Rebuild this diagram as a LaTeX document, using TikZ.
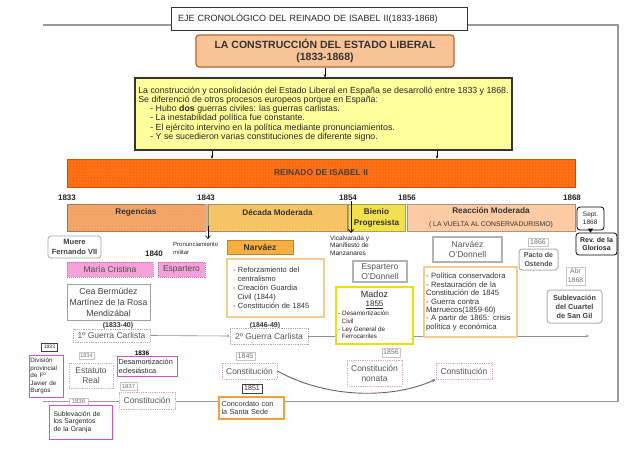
\documentclass[tikz,border=0pt]{standalone}
\usepackage{fontspec}
\setmainfont{Liberation Sans}
\usetikzlibrary{arrows.meta,patterns}
\newcommand{\fsz}[2]{\fontsize{#1pt}{#2pt}\selectfont}
\definecolor{frameC}{HTML}{9A9A9A}
\definecolor{laFill}{HTML}{F8C396}
\definecolor{laDraw}{HTML}{B8662E}
\definecolor{yelFill}{HTML}{FFFF9C}
\definecolor{barFill}{HTML}{FF6A0C}
\definecolor{barDraw}{HTML}{C05010}
\definecolor{regFill}{HTML}{F2A262}
\definecolor{decFill}{HTML}{F6C262}
\definecolor{bieFill}{HTML}{F0E04A}
\definecolor{reaFill}{HTML}{FBCAA2}
\definecolor{pinkFill}{HTML}{F6A2DA}
\definecolor{pinkDraw}{HTML}{D868B8}
\definecolor{magC}{HTML}{D050D0}
\definecolor{dotPink}{HTML}{E4A4B4}
\definecolor{txtG}{HTML}{555555}
\definecolor{narFill}{HTML}{F6B040}
\definecolor{narDraw}{HTML}{C08424}
\definecolor{lorange}{HTML}{F6CC8E}
\definecolor{concC}{HTML}{F0A232}
\definecolor{madC}{HTML}{EEE000}
\definecolor{lineC}{HTML}{8890A8}
\pgfdeclarelayer{bg}
\pgfsetlayers{bg,main}
\begin{document}
\begin{tikzpicture}[x=1pt,y=-1pt,
  bx/.style={draw, inner sep=0pt, align=center, fill=white},
  lbl/.style={draw=gray!45, fill=white, text=gray!90!black, inner sep=0.6pt, align=center},
  blbl/.style={draw=black!75, fill=white, text=black!85, inner sep=0.6pt, align=center},
  magbox/.style={draw=magC, line width=.8pt, fill=white, align=left, inner xsep=1.5pt, inner ysep=1pt, text=black!85},
  pdot/.style={draw=dotPink, dash pattern=on .9pt off .9pt, line width=.7pt, fill=white, text=txtG, align=center, inner sep=0pt, font=\fsz{8.5}{10}},
  gdot/.style={draw=gray!65, dash pattern=on .9pt off .9pt, line width=.7pt, fill=white, text=txtG, inner sep=0pt, font=\fsz{8.5}{10}},
  grybox/.style={draw=gray!60, line width=1.2pt, fill=white, text=txtG, align=center, inner sep=0pt, font=\fsz{8.5}{10}},
  pinkbox/.style={draw=pinkDraw, dash pattern=on 1pt off 1pt, fill=pinkFill, inner sep=0pt, font=\fsz{8.5}{10}, text=black!70},
  rnd/.style={rounded corners=3pt},
  period/.style={draw=#1!70!black, line width=.5pt, fill=#1, postaction={pattern=dots, pattern color=#1!55!white}, inner sep=0pt, align=center, font=\bfseries\fsz{8.2}{11}, text=black!80},
  yr/.style={font=\bfseries\fsz{8}{9}, inner sep=0pt, text=black!85},
  conn/.style={line width=.6pt, -{Stealth[length=3pt,width=2.6pt]}},
  smalltxt/.style={align=left, inner sep=0pt, text=black!85},
  thinline/.style={lineC, line width=.6pt}
]
\begin{pgfonlayer}{bg}
\fill[white] (0,0) rectangle (640,453);
\end{pgfonlayer}
\useasboundingbox (0,0) rectangle (640,453);

% title and frame
\node[bx, draw=black!80, line width=.6pt, minimum width=296pt, minimum height=23pt, font=\fsz{9}{10}, text width=282pt, align=left, text=black!85] (title) at (319,18.5) {EJE CRONOLÓGICO DEL REINADO DE ISABEL II(1833-1868)};
\coordinate (ftl) at (43,25);
\coordinate (ftr) at (618,25);
\coordinate (fbr) at (618,401.5);
\coordinate (fbl) at (43,401.5);

% header boxes
\node[bx, rnd, fill=laFill, draw=laDraw, line width=1.2pt, minimum width=258pt, minimum height=32pt, font=\bfseries\fsz{10.5}{12.5}, text=black!80] (la) at (325,51) {LA CONSTRUCCIÓN DEL ESTADO LIBERAL\\(1833-1868)};
\node[bx, fill=yelFill, draw=black!80, line width=1.2pt, minimum width=377pt, minimum height=72pt, font=\fsz{8.8}{9.2}, align=left, text=black!85] (yel) at (323.5,114) {La construcción y consolidación del Estado Liberal en España se desarrolló entre 1833 y 1868.\\Se diferenció de otros procesos europeos porque en España:\\\hspace*{12pt}- Hubo \textbf{dos} guerras civiles: las guerras carlistas.\\\hspace*{12pt}- La inestabilidad política fue constante.\\\hspace*{12pt}- El ejército intervino en la política mediante pronunciamientos.\\\hspace*{12pt}- Y se sucedieron varias constituciones de diferente signo.};
\node[bx, fill=barFill, draw=barDraw, line width=.6pt, postaction={pattern=dots, pattern color=barFill!55!white}, minimum width=508pt, minimum height=28pt, font=\bfseries\fsz{8.5}{10}, text=black!75] (bar) at (321,173) {REINADO DE ISABEL II};

% years
\node[yr] (y1833) at (67,198) {1833};
\node[yr] (y1843) at (206,198) {1843};
\node[yr] (y1854) at (348,198) {1854};
\node[yr] (y1856) at (407,198) {1856};
\node[yr] (y1868) at (572,198) {1868};

% periods
\node[period=regFill, minimum width=138pt, minimum height=27pt] (reg) at (136,217.5) {Regencias\\\mbox{}};
\node[fill=gray!55, minimum width=3pt, minimum height=27pt, inner sep=0pt] (sep) at (206.5,217.5) {};
\node[period=decFill, minimum width=139pt, minimum height=27pt] (dec) at (277.5,217.5) {Década Moderada\\\mbox{}};
\node[period=bieFill, minimum width=57pt, minimum height=27pt] (bie) at (376.5,217.5) {Bienio\\Progresista};
\node[period=reaFill, minimum width=168pt, minimum height=27pt] (rea) at (491,217.5) {Reacción Moderada\\[1.5pt]{\mdseries\fsz{6.8}{8}( LA VUELTA AL CONSERVADURISMO)}};
\node[bx, rnd, draw=black, line width=.8pt, minimum width=27pt, minimum height=23pt, font=\fsz{6.5}{8}, align=left, text=black!85] (sept) at (590.5,218.5) {Sept.\\1868};
\node[bx, rnd, draw=black, line width=.8pt, minimum width=41pt, minimum height=22pt, font=\bfseries\fsz{7}{8.5}, text=black!85] (rev) at (596.5,244) {Rev. de la\\Gloriosa};

% Regencias column
\node[bx, rnd, draw=gray!70, line width=.8pt, minimum width=53pt, minimum height=22pt, font=\bfseries\fsz{7.5}{9.5}, text=black!75] (muere) at (74.5,247) {Muere\\Fernando VII};
\node[yr] (y1840) at (154,254) {1840};
\node[pinkbox, minimum width=86pt, minimum height=15pt] (mc) at (110,269.5) {María Cristina};
\node[pinkbox, minimum width=47pt, minimum height=15pt] (esp) at (181.5,269.5) {Espartero};
\node[bx, draw=gray!75, line width=.8pt, minimum width=83pt, minimum height=36pt, font=\fsz{8.7}{11}, text=black!75] (cea) at (108.5,302) {Cea Bermúdez\\Martínez de la Rosa\\Mendizábal};
\node[font=\bfseries\fsz{7}{8}, inner sep=0pt, text=black!80] (d3340) at (118,325.5) {(1833-40)};
\node[gdot, minimum width=77pt, minimum height=13pt] (gc1) at (111.5,335.5) {1º Guerra Carlista};
\node[blbl, font=\fsz{5}{6}, minimum width=16pt, minimum height=8pt] (l1833) at (49.5,347) {1833};
\node[magbox, minimum width=34pt, minimum height=42pt, text width=31pt, font=\fsz{6.3}{7.6}] (div) at (46,376) {División\\provincial\\de Fº\\Javier de\\Burgos};
\node[lbl, font=\fsz{5.5}{6}, minimum width=15pt, minimum height=7.5pt] (l1834) at (86.5,355.5) {1834};
\node[pdot, minimum width=44pt, minimum height=25pt] (est) at (91,375.5) {Estatuto\\Real};
\node[magbox, minimum width=60pt, minimum height=20pt, text width=57pt, font=\fsz{7.3}{9}] (desam) at (147,366) {Desamortización\\eclesiástica};
\node[font=\bfseries\fsz{6.5}{7}, inner sep=0pt] (l1836a) at (142,353) {1836};
\node[lbl, minimum width=17pt, minimum height=8pt, font=\fsz{6}{7}] (l1837) at (128.5,386) {1837};
\node[pdot, minimum width=56pt, minimum height=17pt] (c1837) at (147,400.5) {Constitución};
\node[lbl, minimum width=19pt, minimum height=7pt, font=\fsz{6}{7}] (l1836b) at (78.5,401.5) {1836};
\node[magbox, minimum width=63pt, minimum height=34pt, text width=54pt, font=\fsz{6.8}{7.8}] (subl) at (80.5,422) {Sublevación de\\los Sargentos\\de la Granja};

% Decada Moderada column
\node[smalltxt, font=\fsz{6}{8.5}, anchor=west] (pron) at (173,248.5) {Pronunciamiento\\militar};
\node[bx, fill=narFill, draw=narDraw, line width=.7pt, minimum width=66pt, minimum height=14pt, font=\bfseries\fsz{8.5}{10}, text=black!80] (nar) at (260,247) {Narváez};
\node[bx, draw=lorange, line width=1.2pt, minimum width=97pt, minimum height=58pt, text width=85pt, align=left, font=\fsz{7.5}{9}, text=black!80] (ref) at (275.5,288) {- Reforzamiento del\\\hspace*{4.5pt}centralismo\\- Creación Guardia\\\hspace*{4.5pt}Civil (1844)\\- Constitución de 1845};
\node[font=\bfseries\fsz{7}{8}, inner sep=0pt, text=black!80] (d4649) at (265,325.5) {(1846-49)};
\node[gdot, minimum width=78pt, minimum height=16pt] (gc2) at (269,336) {2º Guerra Carlista};
\node[lbl, minimum width=19pt, minimum height=8pt, font=\fsz{7}{8}] (l1845) at (245.5,356) {1845};
\node[pdot, minimum width=55pt, minimum height=16pt] (c1845) at (249.5,371) {Constitución};
\node[blbl, minimum width=20pt, minimum height=9pt, font=\fsz{7}{8}] (l1851) at (252,388.5) {1851};
\node[bx, draw=concC, line width=1.5pt, minimum width=65pt, minimum height=22pt, text width=60pt, align=left, font=\fsz{7.3}{8.5}, text=black!80] (conc) at (251.5,408) {Concordato con\\la Santa Sede};

% Bienio column
\node[smalltxt, font=\fsz{6.5}{7.8}, anchor=west] (vic) at (330,245.5) {Vicalvarada y\\Manifiesto de\\Manzanares};
\node[grybox, minimum width=54pt, minimum height=21pt] (espod) at (380,271.5) {Espartero\\O'Donnell};
\node[bx, draw=madC, line width=1.5pt, minimum width=77pt, minimum height=57pt] (madoz) at (374.5,315.5) {};
\node[font=\fsz{9}{10}, inner sep=0pt, text=black!85] (madozT) at (374.5,294.5) {Madoz};
\node[font=\fsz{8}{9}, inner sep=0pt, text=black!85] (madozY) at (374.5,304.5) {\underline{1855}};
\node[smalltxt, font=\fsz{6.3}{7.7}, anchor=north west] (madozL) at (338,311) {- Desamortización\\\hspace*{3.5pt}Civil\\- Ley General de\\\hspace*{3.5pt}Ferrocarriles};
\node[lbl, minimum width=18pt, minimum height=9pt, font=\fsz{7}{8}] (l1856) at (391,352.5) {1856};
\node[pdot, minimum width=55pt, minimum height=26pt] (nonata) at (374.5,373) {Constitución\\nonata};

% Reaccion column
\node[grybox, minimum width=69pt, minimum height=25pt] (narod) at (467.5,249.5) {Narváez\\O'Donnell};
\node[bx, draw=lorange, line width=1.2pt, minimum width=93pt, minimum height=70pt, text width=89pt, align=left, font=\fsz{7.7}{8.4}, text=black!80] (reat) at (470.5,302) {- Política conservadora\\- Restauración de la\\Constitución de 1845\\- Guerra contra\\Marruecos(1859-60)\\- A partir de 1865: crisis\\política y económica};
\node[pdot, minimum width=56pt, minimum height=16pt] (cfin) at (464,371) {Constitución};
\node[lbl, minimum width=20pt, minimum height=8pt, font=\fsz{7}{8}] (l1866) at (538,242) {1866};
\node[bx, rnd, draw=gray!60, line width=1pt, minimum width=39pt, minimum height=21pt, font=\bfseries\fsz{7}{8.5}, text=black!70] (pacto) at (538.5,259.5) {Pacto de\\Ostende};
\node[lbl, minimum width=19pt, minimum height=18pt, font=\fsz{6.8}{9}] (abr) at (575.5,276) {Abr\\1868};
\node[bx, rnd, draw=gray!60, line width=1pt, minimum width=55pt, minimum height=33pt, font=\bfseries\fsz{7.3}{9}, text=black!75] (sangil) at (574.5,306.5) {Sublevación\\del Cuartel\\de San Gil};

% connectors
\coordinate (k1) at (212,0);
\coordinate (k2) at (437,0);
\coordinate (lend) at (589,336);
\coordinate (a43s) at (208,226);
\coordinate (a43e) at (208,239);
\coordinate (a54e) at (351,233);
\begin{pgfonlayer}{bg}
\draw[frameC, line width=1.3pt] (ftl) -- (ftl -| title.west);
\draw[frameC, line width=1.3pt] (ftr -| title.east) -- (ftr) -- (fbr) -- (fbl);
\draw[conn] (la.south) -- (la.south |- yel.north);
\draw[conn] (yel.south -| k1) -- (bar.north -| k1);
\draw[conn] (yel.south -| k2) -- (bar.north -| k2);
\draw[thinline, -{Stealth[length=2.5pt,width=2.5pt]}] (gc1.east) -- (gc2.west);
\draw[thinline] (gc2.east) -- (gc2.east -| madoz.west);
\draw[thinline, -{Stealth[length=3pt,width=2.5pt]}] (gc2.east -| madoz.east) -- (lend);
\draw[gray!80!black, line width=.9pt, -{Stealth[length=4pt,width=3pt]}] (c1845.east) .. controls (330,400) and (395,398) .. (cfin.south west);
\end{pgfonlayer}
\draw[line width=.6pt, -{Straight Barb[length=3pt,width=5pt]}] (a43s) -- (a43e);
\draw[line width=.8pt, -{Straight Barb[length=3pt,width=5pt]}] (y1854.south -| a54e) -- (a54e);
\draw[line width=.8pt, -{Triangle[length=4pt,width=5pt]}] (sept.south) -- (sept.south |- rev.north);
\end{tikzpicture}
\end{document}
